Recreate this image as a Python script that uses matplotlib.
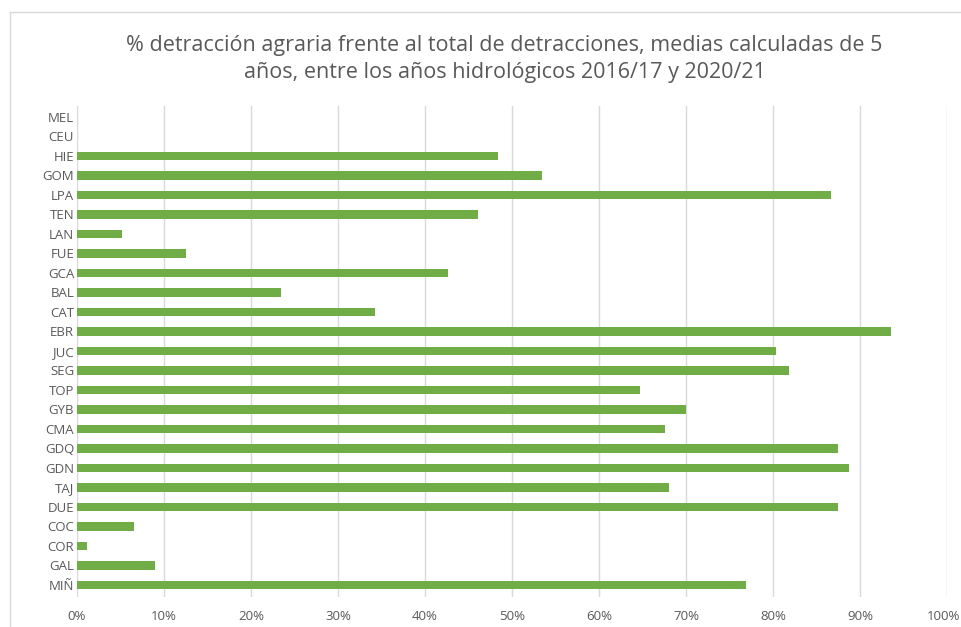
import matplotlib
matplotlib.use("Agg")
import matplotlib.pyplot as plt
from matplotlib.lines import Line2D

# categories from bottom to top
categories = ["MIÑ", "GAL", "COR", "COC", "DUE", "TAJ", "GDN", "GDQ", "CMA", "GYB",
              "TOP", "SEG", "JUC", "EBR", "CAT", "BAL", "GCA", "FUE", "LAN", "TEN",
              "LPA", "GOM", "HIE", "CEU", "MEL"]
pct_agraria = [76.9, 9.0, 1.1, 6.5, 87.5, 68.0, 88.7, 87.5, 67.6, 70.0,
               64.7, 81.8, 80.3, 93.6, 34.2, 23.4, 42.7, 12.5, 5.2, 46.1,
               86.7, 53.4, 48.4, 0.0, 0.0]
x_ticks = [0, 10, 20, 30, 40, 50, 60, 70, 80, 90, 100]

title = ("% detracción agraria frente al total de detracciones, medias calculadas de 5\n"
         "años, entre los años hidrológicos 2016/17 y 2020/21")

plt.rcParams['font.family'] = ['Open Sans', 'DejaVu Sans']
grey_txt = "#595959"

fig = plt.figure(figsize=(9.61, 6.27), dpi=100)
ax = fig.add_axes([77 / 961, 1 - 597 / 627, 870 / 961, 491 / 627])

ypos = list(range(len(categories)))
ax.barh(ypos, pct_agraria, height=0.42, color="#70AD47", zorder=3)

ax.set_xlim(0, 100)
ax.set_ylim(-0.62, 24.56)
ax.set_yticks(ypos, labels=categories)
ax.set_xticks(x_ticks, labels=[])
ax.grid(axis="x", color="#D9D9D9", linewidth=1, zorder=0)
for s in ax.spines.values():
    s.set_visible(False)
ax.tick_params(length=0, colors=grey_txt, labelsize=9.5)
ax.tick_params(axis="y", pad=2)

# x tick labels drawn by hand so the last one (100%) can stay inside the image
for t in x_ticks:
    dx = -2.5 if t == x_ticks[-1] else 0
    ax.annotate(f"{t}%", xy=(t, 0), xycoords=("data", "axes fraction"),
                xytext=(dx, -9), textcoords="offset points",
                ha="center", va="top", fontsize=9.5, color=grey_txt)

fig.text(0.525, 1 - 59 / 627, title, ha="center", va="center", fontsize=15.5,
         color=grey_txt, linespacing=1.42)

# chart frame edges visible in the screenshot
fig.add_artist(Line2D([10 / 961, 1], [1 - 12 / 627] * 2, color="#D9D9D9", lw=1))
fig.add_artist(Line2D([10 / 961] * 2, [0, 1 - 12 / 627], color="#D9D9D9", lw=1))

fig.savefig("out.png", dpi=100, facecolor="white")
